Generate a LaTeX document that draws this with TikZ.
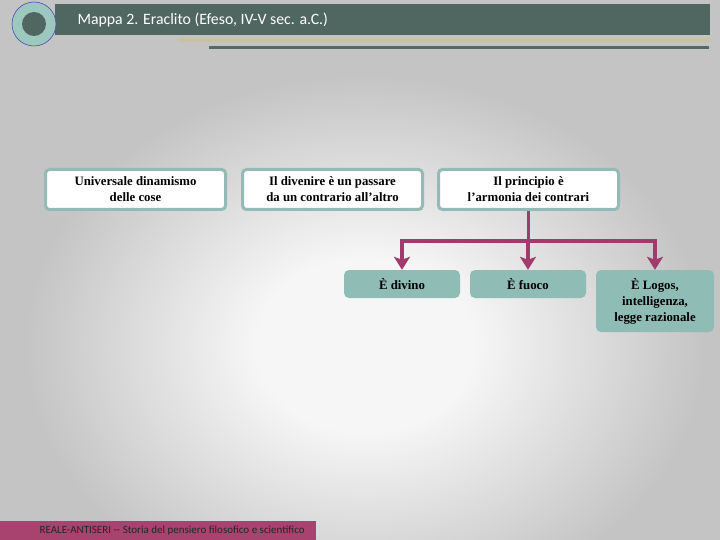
\documentclass[tikz,border=0pt]{standalone}
\usepackage{fontspec}
\setmainfont{Liberation Serif}
\newfontfamily\slidefont{Carlito}
\usetikzlibrary{arrows.meta}
\definecolor{slate}{HTML}{4F6661}
\definecolor{teal}{HTML}{8FBCB5}
\definecolor{tealedge}{HTML}{93BAB4}
\definecolor{plum}{HTML}{A13B6B}
\definecolor{footer}{HTML}{A8426F}
\definecolor{sand}{HTML}{C8C1A2}
\definecolor{ring}{HTML}{9CC8C0}
\definecolor{backgray}{HTML}{C4C4C4}
\definecolor{glow}{HTML}{F6F6F6}
\pgfdeclareradialshading{backdrop}{\pgfpoint{0bp}{0bp}}{color(0bp)=(glow); color(8bp)=(glow); color(25bp)=(backgray); color(50bp)=(backgray)}
\begin{document}
\begin{tikzpicture}[x=1pt,y=-1pt,
  idea/.style={draw=tealedge,line width=3pt,fill=white,rounded corners=4pt,
    minimum width=180pt,minimum height=40pt,align=center,inner sep=0pt,
    font=\fontsize{12.8}{16}\selectfont\bfseries},
  fact/.style={fill=teal,rounded corners=5pt,minimum width=116pt,minimum height=28pt,
    align=center,inner sep=0pt,font=\fontsize{12.8}{16}\selectfont\bfseries},
  link/.style={draw=plum,line width=3.5pt},
  arrow/.style={link,-{Stealth[width=16pt,length=13pt,inset=3pt]}}]
\useasboundingbox (0,0) rectangle (720,540);
\begin{scope}
\clip (0,0) rectangle (720,540);
\fill[backgray] (0,0) rectangle (720,540);
\shade[shading=backdrop] (365,345) ellipse (340 and 270);
\end{scope}
\fill[slate] (55,4) rectangle (710,35);
\fill[sand] (178,38) rectangle (710,42);
\fill[slate!85!gray] (209,46) rectangle (709,49);
\draw[draw=blue!40!gray,fill=ring,line width=0.6pt] (34,24) circle (22);
\fill[slate] (34,24) circle (12);
\node[anchor=west,text=white,font=\slidefont\fontsize{15.8}{18}\selectfont] (title) at (74,20) {Mappa 2. Eraclito (Efeso, IV-V sec. a.C.)};
\node[idea] (flux) at (135.5,189.5) {Universale dinamismo\\delle cose};
\node[idea] (becoming) at (332.5,189.5) {Il divenire è un passare\\da un contrario all’altro};
\node[idea] (harmony) at (528.5,189.5) {Il principio è\\l’armonia dei contrari};
\node[fact] (divine) at (402,284) {È divino};
\node[fact] (fire) at (528,284) {È fuoco};
\node[fact,minimum width=118pt,minimum height=62pt] (logos) at (655,301) {È Logos,\\intelligenza,\\legge razionale};
\coordinate (split) at (528.5,241);
\draw[link] (harmony.south) -- (split);
\draw[link,line cap=rect] (divine.north |- split) -- (logos.north |- split);
\draw[arrow] (divine.north |- split) -- (divine.north);
\draw[arrow] (fire.north |- split) -- (fire.north);
\draw[arrow] (logos.north |- split) -- (logos.north);
\fill[footer] (0,521) rectangle (316,540);
\node[anchor=west,text=black!85,font=\slidefont\fontsize{11}{13}\selectfont] (credit) at (36,530.5) {REALE-ANTISERI -- Storia del pensiero filosofico e scientifico};
\end{tikzpicture}
\end{document}
